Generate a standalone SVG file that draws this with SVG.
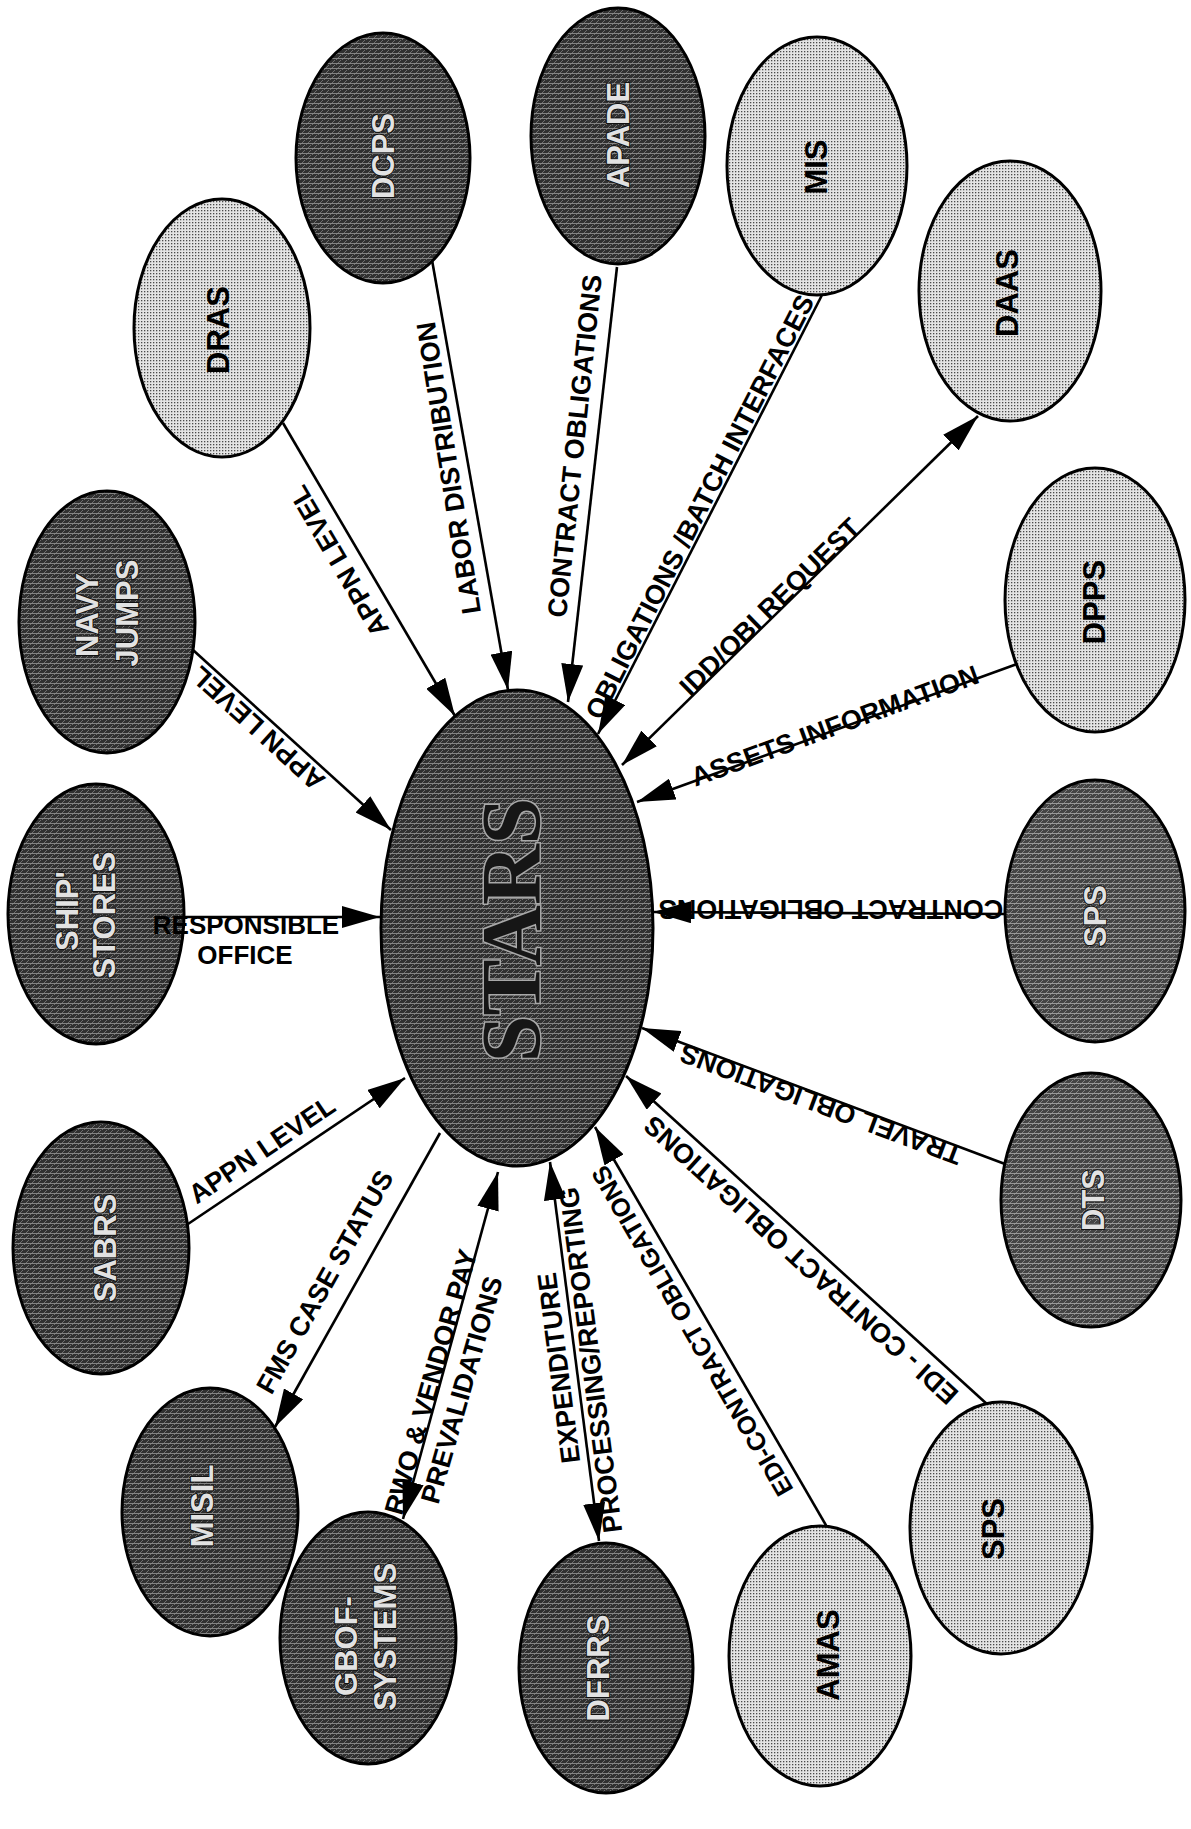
<svg xmlns="http://www.w3.org/2000/svg" width="1191" height="1829" viewBox="0 0 1191 1829">
<defs>
<pattern id="pLight" width="3" height="3" patternUnits="userSpaceOnUse"><rect width="3" height="3" fill="#e4e4e4"/><rect width="1.3" height="1.3" fill="#4a4a4a"/></pattern>
<pattern id="pDark" width="6" height="5" patternUnits="userSpaceOnUse"><rect width="6" height="5" fill="#303030"/><path d="M0,5 L5,0" stroke="#777" stroke-width="0.9"/><rect y="3" width="6" height="0.9" fill="#8c8c8c"/></pattern>
<pattern id="pMid" width="6" height="5" patternUnits="userSpaceOnUse"><rect width="6" height="5" fill="#444"/><path d="M0,5 L5,0" stroke="#8a8a8a" stroke-width="0.9"/><rect y="3" width="6" height="0.9" fill="#a0a0a0"/></pattern>
<marker id="ah" markerWidth="38" markerHeight="22" refX="38" refY="11" orient="auto-start-reverse" markerUnits="userSpaceOnUse"><path d="M0,0 L38,11 L0,22 z" fill="#000"/></marker>
</defs>
<style>
.light{fill:url(#pLight);stroke:#000;stroke-width:3}
.dark{fill:url(#pDark);stroke:#000;stroke-width:3}
.mid{fill:url(#pMid);stroke:#000;stroke-width:3}
.c{stroke:#000;stroke-width:2.6;fill:none}
.a{marker-end:url(#ah)}
.b{marker-start:url(#ah);marker-end:url(#ah)}
.lbl{font-family:"Liberation Sans",Arial,sans-serif;font-weight:bold;font-size:27px;fill:#000;text-anchor:middle;dominant-baseline:central}
.nl{font-family:"Liberation Sans",Arial,sans-serif;font-weight:bold;font-size:31px;fill:#000;text-anchor:middle;dominant-baseline:central}
.nd{font-family:"Liberation Sans",Arial,sans-serif;font-weight:bold;font-size:31px;fill:#e2e2e2;stroke:#111;stroke-width:2;paint-order:stroke fill;text-anchor:middle;dominant-baseline:central}
.big{font-family:"Liberation Serif","Times New Roman",serif;font-weight:bold;font-size:84px;fill:#161616;stroke:#a8a8a8;stroke-width:3;paint-order:stroke fill;text-anchor:middle;dominant-baseline:central}
</style>
<rect width="1191" height="1829" fill="#fff"/>
<g id="connectors">
<line class="c a" x1="283" y1="423" x2="455" y2="716"/>
<line class="c a" x1="432" y1="260" x2="508" y2="690"/>
<line class="c a" x1="617" y1="267" x2="568" y2="702"/>
<line class="c a" x1="822" y1="295" x2="598" y2="734"/>
<line class="c b" x1="622" y1="765" x2="978" y2="416"/>
<line class="c a" x1="1017" y1="664" x2="637" y2="802"/>
<line class="c a" x1="1005" y1="914" x2="653" y2="912"/>
<line class="c a" x1="1005" y1="1164" x2="642" y2="1028"/>
<line class="c a" x1="988" y1="1405" x2="626" y2="1076"/>
<line class="c a" x1="827" y1="1527" x2="595" y2="1127"/>
<line class="c b" x1="550" y1="1162" x2="599" y2="1541"/>
<line class="c b" x1="498" y1="1172" x2="403" y2="1519"/>
<line class="c a" x1="440" y1="1133" x2="275" y2="1427"/>
<line class="c a" x1="188" y1="1224" x2="405" y2="1078"/>
<line class="c a" x1="184" y1="917" x2="380" y2="917"/>
<line class="c a" x1="193" y1="650" x2="391" y2="830"/>
</g>
<g id="node-dras"><ellipse class="light" cx="222" cy="328" rx="88" ry="129"/><text class="nl" x="218" y="330" transform="rotate(-90 218 330)">DRAS</text></g>
<g id="node-dcps"><ellipse class="dark" cx="383" cy="158" rx="87" ry="125"/><text class="nd" x="383" y="156" transform="rotate(-90 383 156)">DCPS</text></g>
<g id="node-apade"><ellipse class="dark" cx="618" cy="136" rx="87" ry="128"/><text class="nd" x="618" y="135" transform="rotate(-90 618 135)">APADE</text></g>
<g id="node-mis"><ellipse class="light" cx="817" cy="166" rx="90" ry="129"/><text class="nl" x="816" y="167" transform="rotate(-90 816 167)">MIS</text></g>
<g id="node-daas"><ellipse class="light" cx="1010" cy="291" rx="91" ry="130"/><text class="nl" x="1007" y="293" transform="rotate(-90 1007 293)">DAAS</text></g>
<g id="node-dpps"><ellipse class="light" cx="1095" cy="600" rx="90" ry="132"/><text class="nl" x="1094" y="602" transform="rotate(-90 1094 602)">DPPS</text></g>
<g id="node-sps-right"><ellipse class="mid" cx="1095" cy="911" rx="90" ry="131"/><text class="nd" x="1095" y="916" transform="rotate(-90 1095 916)">SPS</text></g>
<g id="node-dts"><ellipse class="mid" cx="1091" cy="1200" rx="90" ry="127"/><text class="nd" x="1093" y="1200" transform="rotate(-90 1093 1200)">DTS</text></g>
<g id="node-sps-lower"><ellipse class="light" cx="1001" cy="1528" rx="91" ry="126"/><text class="nl" x="993" y="1529" transform="rotate(-90 993 1529)">SPS</text></g>
<g id="node-amas"><ellipse class="light" cx="820" cy="1656" rx="91" ry="130"/><text class="nl" x="828" y="1655" transform="rotate(-90 828 1655)">AMAS</text></g>
<g id="node-dfrrs"><ellipse class="dark" cx="606" cy="1668" rx="87" ry="125"/><text class="nd" x="598" y="1668" transform="rotate(-90 598 1668)">DFRRS</text></g>
<g id="node-gbof"><ellipse class="dark" cx="368" cy="1638" rx="88" ry="126"/><text class="nd" x="346" y="1646" transform="rotate(-90 346 1646)">GBOF-</text><text class="nd" x="385" y="1637" transform="rotate(-90 385 1637)">SYSTEMS</text></g>
<g id="node-misil"><ellipse class="dark" cx="210" cy="1512" rx="88" ry="124"/><text class="nd" x="202" y="1506" transform="rotate(-90 202 1506)">MISIL</text></g>
<g id="node-sabrs"><ellipse class="dark" cx="101" cy="1248" rx="88" ry="126"/><text class="nd" x="105" y="1248" transform="rotate(-90 105 1248)">SABRS</text></g>
<g id="node-ship-stores"><ellipse class="dark" cx="96" cy="914" rx="88" ry="130"/><text class="nd" x="67" y="911" transform="rotate(-90 67 911)">SHIP'</text><text class="nd" x="104" y="915" transform="rotate(-90 104 915)">STORES</text></g>
<g id="node-navy-jumps"><ellipse class="dark" cx="107" cy="622" rx="88" ry="131"/><text class="nd" x="87" y="615" transform="rotate(-90 87 615)">NAVY</text><text class="nd" x="127" y="613" transform="rotate(-90 127 613)">JUMPS</text></g>
<g id="node-stars"><ellipse class="dark" cx="517" cy="928" rx="136" ry="238"/><text class="big" x="511" y="930" transform="rotate(-90 511 930)">STARS</text></g>
<g id="connector-labels">
<text class="lbl" x="339" y="561" transform="rotate(-120.4 339 561)">APPN LEVEL</text>
<text class="lbl" x="449" y="468" transform="rotate(-99 449 468)">LABOR DISTRIBUTION</text>
<text class="lbl" x="575" y="446" transform="rotate(-84 575 446)">CONTRACT OBLIGATIONS</text>
<text class="lbl" x="700" y="507" transform="rotate(-63 700 507)">OBLIGATIONS /BATCH INTERFACES</text>
<text class="lbl" x="770" y="607" transform="rotate(-44.4 770 607)">IDD/OBI REQUEST</text>
<text class="lbl" x="835" y="726" transform="rotate(-20.1 835 726)">ASSETS INFORMATION</text>
<text class="lbl" x="831" y="909" transform="rotate(180 831 909)">CONTRACT OBLIGATIONS</text>
<text class="lbl" x="821" y="1104" transform="rotate(-159.4 821 1104)">TRAVEL OBLIGATIONS</text>
<text class="lbl" x="801" y="1260" transform="rotate(-137.7 801 1260)">EDI - CONTRACT OBLIGATIONS</text>
<text class="lbl" style="font-size:25.5px" x="692" y="1331" transform="rotate(-120 692 1331)">EDI-CONTRACT OBLIGATIONS</text>
<text class="lbl" x="559" y="1368" transform="rotate(-97.4 559 1368)">EXPENDITURE</text>
<text class="lbl" x="591" y="1360" transform="rotate(-97.4 591 1360)">PROCESSING/REPORTING</text>
<text class="lbl" x="431" y="1382" transform="rotate(-74 431 1382)">RWO &amp; VENDOR PAY</text>
<text class="lbl" x="462" y="1390" transform="rotate(-74 462 1390)">PREVALIDATIONS</text>
<text class="lbl" x="325" y="1282" transform="rotate(-60.7 325 1282)">FMS CASE STATUS</text>
<text class="lbl" x="262" y="1150" transform="rotate(-34 262 1150)">APPN LEVEL</text>
<text class="lbl" x="258" y="728" transform="rotate(-137.7 258 728)">APPN LEVEL</text>
<text class="lbl" style="font-size:26px" x="246" y="925">RESPONSIBLE</text>
<text class="lbl" style="font-size:26px" x="245" y="955">OFFICE</text>
</g>
</svg>
